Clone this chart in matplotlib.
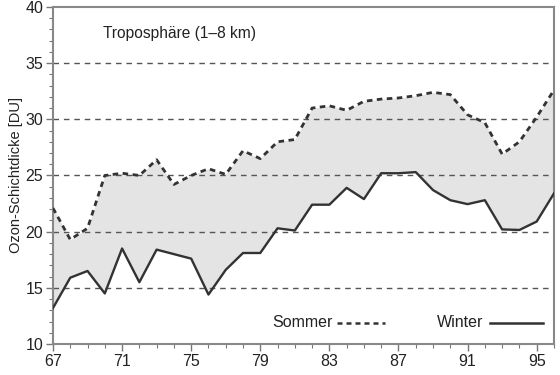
import matplotlib
matplotlib.use('Agg')
import matplotlib.pyplot as plt
import numpy as np
from matplotlib.lines import Line2D
from matplotlib.ticker import MultipleLocator

plt.rcParams['font.family'] = ['Liberation Sans', 'DejaVu Sans']

years = np.arange(67, 97)
sommer = [22.1, 19.3, 20.3, 25.0, 25.2, 25.0, 26.4, 24.2, 25.0, 25.6,
          25.1, 27.2, 26.5, 28.0, 28.2, 31.0, 31.2, 30.8, 31.6, 31.8,
          31.9, 32.1, 32.4, 32.2, 30.4, 29.7, 26.9, 28.0, 30.2, 32.6]
winter = [13.2, 15.9, 16.5, 14.5, 18.5, 15.5, 18.4, 18.0, 17.6, 14.4,
          16.6, 18.1, 18.1, 20.3, 20.1, 22.4, 22.4, 23.9, 22.9, 25.2,
          25.2, 25.3, 23.7, 22.8, 22.45, 22.8, 20.2, 20.15, 20.9, 23.4]
grid_levels = [15, 20, 25, 30, 35]
x_labels = [67, 71, 75, 79, 83, 87, 91, 95]

fig = plt.figure(figsize=(5.6, 3.75), dpi=100)
ax = fig.add_axes([0.0946, 0.0827, 0.8946, 0.8987])

ax.fill_between(years, winter, sommer, color='#e4e4e4', lw=0, zorder=1)
for lev in grid_levels:
    ax.axhline(lev, color='#555555', lw=1.0, ls=(0, (4, 3.5)), zorder=2)
ax.plot(years, sommer, color='#333333', lw=2.0, ls=(0, (2, 1.6)), zorder=3)
ax.plot(years, winter, color='#333333', lw=1.7, zorder=3)

ax.set_xlim(67, 96)
ax.set_ylim(10, 40)
ax.set_xticks(x_labels)
ax.xaxis.set_minor_locator(MultipleLocator(1))
ax.set_yticks([10, 15, 20, 25, 30, 35, 40])
ax.yaxis.set_minor_locator(MultipleLocator(1))
ax.tick_params(which='major', direction='out', length=5, width=1, color='#777777',
               labelsize=11.5, labelcolor='#222222', pad=2)
ax.tick_params(which='minor', direction='out', length=3, width=0.8, color='#777777')
for s in ax.spines.values():
    s.set_color('#888888')
    s.set_linewidth(1.5)

ax.set_ylabel('Ozon-Schichtdicke [DU]', fontsize=10.5, color='#222222', labelpad=2)

ax.text(0.1, 0.92, 'Troposphäre (1–8 km)', transform=ax.transAxes,
        fontsize=11.2, color='#222222', va='center', ha='left')
ax.text(0.437, 0.063, 'Sommer', transform=ax.transAxes,
        fontsize=11.5, color='#222222', va='center', ha='left')
ax.add_line(Line2D([0.567, 0.663], [0.063, 0.063], transform=ax.transAxes,
                   color='#333333', lw=1.8, ls=(0, (2, 1.6))))
ax.text(0.766, 0.063, 'Winter', transform=ax.transAxes,
        fontsize=11.5, color='#222222', va='center', ha='left')
ax.add_line(Line2D([0.872, 0.978], [0.063, 0.063], transform=ax.transAxes,
                   color='#333333', lw=1.8))

fig.savefig('out.png', dpi=100)
